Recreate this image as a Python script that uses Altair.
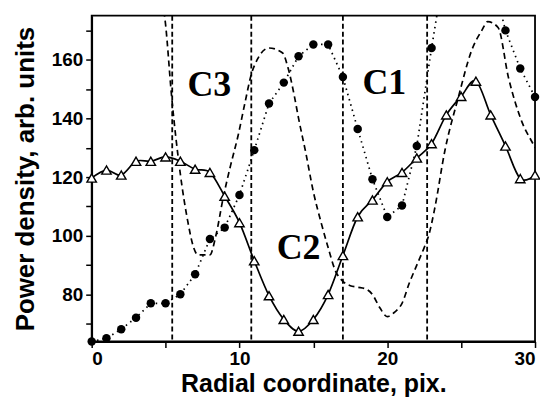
import altair as alt
import pandas as pd

# ---- data ----
x_int = list(range(31))
c2_y = [119.7, 122.4, 120.7, 125.4, 125.4, 126.9, 125.4, 122.7, 121.6, 113.5,
        104.5, 91.5, 79.6, 71.5, 67.5, 71.5, 80.0, 93.3, 106.5, 112.2,
        118.4, 121.6, 126.5, 131.4, 141.2, 147.5, 152.7, 141.2, 130.6, 119.5, 120.7]
c1_y = [64.0, 65.1, 68.2, 72.1, 77.0, 77.0, 80.1, 86.9, 98.9, 102.8,
        113.9, 129.2, 145.1, 152.2, 161.2, 165.2, 165.2, 154.1, 136.4, 119.3,
        106.4, 110.3, 130.6, 164.0, 195.0, 205.0, 200.0, 190.0, 170.0, 157.0, 147.3]
c3_x = [4.8, 5.0, 5.4, 6.0, 6.5, 6.9, 7.2, 8.0, 8.4, 8.9, 9.4, 9.9, 10.4, 10.8, 11.2,
        12.0, 12.9, 13.3, 13.7, 14.0, 14.5, 15.0, 15.5, 16.0, 16.5, 17.0, 17.5, 18.0,
        18.5, 19.0, 19.5, 20.0, 20.5, 21.0, 21.5, 22.0, 22.5, 22.8, 23.2, 23.9, 24.8,
        25.7, 26.4, 26.8, 27.5, 28.2, 29.1, 29.9, 30.0]
c3_y = [180, 172, 148, 121, 105, 96, 93.5, 93.5, 100, 113, 124, 134, 146, 155, 160,
        164, 162.4, 157, 148, 140, 128, 115, 105, 96, 88, 84.5, 83, 82.5,
        82, 80, 75.5, 72.5, 74, 77, 84, 90, 96, 100, 109, 129, 147,
        163, 170, 173, 171, 154, 139, 131, 130]
vlines = [5.45, 10.8, 17.0, 22.7]
lab_text = ["C3", "C1", "C2"]
lab_x = [7.96, 19.8, 14.0]
lab_y = [147.7, 148.4, 92.1]
x_ticks = [0, 5, 10, 15, 20, 25, 30]
y_ticks = [70, 80, 90, 100, 110, 120, 130, 140, 150, 160, 170]

XMIN, XMAX = 0, 30
YMIN, YMAX = 64, 175

df_main = pd.DataFrame({"x": x_int, "c1": c1_y, "c2": c2_y})
df_c3 = pd.DataFrame({"x": c3_x, "y": c3_y})
df_v = pd.DataFrame({"x": vlines})
df_lab = pd.DataFrame({"t": lab_text, "x": lab_x, "y": lab_y})

xs = alt.Scale(domain=[XMIN, XMAX], nice=False, zero=False)
ys = alt.Scale(domain=[YMIN, YMAX], nice=False, zero=False)

x_axis = alt.Axis(
    title="Radial coordinate, pix.",
    values=x_ticks,
    labelExpr="abs(datum.value % 10) < 0.5 ? format(datum.value, 'd') : ''",
    labelOverlap=False,
    grid=False, tickSize=6, tickWidth=1.5, domainWidth=1.8,
    domainColor="black", tickColor="black",
    labelFont="Liberation Sans", labelFontWeight="bold", labelFontSize=19,
    labelColor="black", labelPadding=2,
    titleFont="Liberation Sans", titleFontWeight="bold", titleFontSize=25,
    titleColor="black", titlePadding=3,
)
y_axis = alt.Axis(
    title="Power density, arb. units",
    values=y_ticks,
    labelExpr="abs(datum.value % 20) < 0.5 ? format(datum.value, 'd') : ''",
    labelOverlap=False,
    grid=False, tickSize=6, tickWidth=1.5, domainWidth=1.8,
    domainColor="black", tickColor="black",
    labelFont="Liberation Sans", labelFontWeight="bold", labelFontSize=19,
    labelColor="black", labelPadding=3,
    titleFont="Liberation Sans", titleFontWeight="bold", titleFontSize=26,
    titleColor="black", titlePadding=13,
)


def X(field):
    return alt.X(f"{field}:Q", scale=xs, axis=x_axis)


def Y(field):
    return alt.Y(f"{field}:Q", scale=ys, axis=y_axis)


base = alt.Chart(df_main)

c3_line = alt.Chart(df_c3).mark_line(
    color="black", strokeWidth=1.7, strokeDash=[6, 4], clip=True, interpolate="monotone"
).encode(x=X("x"), y=Y("y"))

c1_line = base.mark_line(
    color="black", strokeWidth=1.7, strokeDash=[1.5, 4], clip=True
).encode(x=X("x"), y=Y("c1"))

v_rules = alt.Chart(df_v).mark_rule(
    color="black", strokeWidth=1.8, strokeDash=[5, 3]
).encode(x=X("x"))

c2_line = base.mark_line(
    color="black", strokeWidth=1.7, clip=True, interpolate="cardinal"
).encode(x=X("x"), y=Y("c2"))

c1_pts = base.transform_filter(
    alt.datum.c1 <= YMAX
).mark_point(
    shape="circle", filled=True, color="black", size=72, opacity=1
).encode(x=X("x"), y=Y("c1"))

c2_pts = base.mark_point(
    shape="triangle-up", filled=True, fill="white", stroke="black",
    strokeWidth=1.4, size=90, opacity=1
).encode(x=X("x"), y=Y("c2"))

labels = alt.Chart(df_lab).mark_text(
    font="Liberation Serif", fontWeight="bold", fontSize=36, color="black",
    align="center", baseline="alphabetic"
).encode(x=X("x"), y=Y("y"), text="t:N")

chart = alt.layer(
    c3_line, c1_line, v_rules, c2_line, c1_pts, c2_pts, labels
).properties(
    width=445, height=327,
    autosize=alt.AutoSizeParams(type="none"),
    padding={"left": 84, "top": 7, "right": 5, "bottom": 58},
    background="white",
).configure_view(
    stroke="black", strokeWidth=1.8
)

chart.save("out.html", embed_options={"renderer": "svg", "actions": False})
